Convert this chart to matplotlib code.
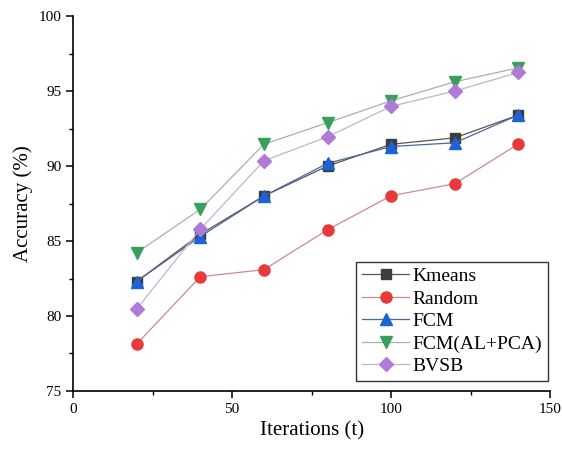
import numpy as np
import matplotlib as mpl
mpl.use('Agg')
import matplotlib.pyplot as plt
from matplotlib.ticker import MultipleLocator

iterations = [20, 40, 60, 80, 100, 120, 140]

kmeans = [82.3, 85.45, 88.0, 90.0, 91.45, 91.88, 93.4]
random_acc = [78.13, 82.62, 83.09, 85.75, 88.02, 88.82, 91.47]
fcm = [82.3, 85.3, 88.0, 90.18, 91.3, 91.55, 93.4]
fcm_al_pca = [84.22, 87.11, 91.45, 92.89, 94.35, 95.62, 96.55]
bvsb = [80.47, 85.78, 90.35, 91.95, 93.98, 95.0, 96.24]

labels = ['Kmeans', 'Random', 'FCM', 'FCM(AL+PCA)', 'BVSB']
markers = ['s', 'o', '^', 'v', 'D']
mcolors = ['#3d3d3d', '#e83a3a', '#1e63d6', '#3a9e5e', '#b07ad8']
lcolors = ['#555555', '#c98a8e', '#4a6a9a', '#9cb8a8', '#c4b2d0']
msizes = [7, 8, 8, 8, 7]

plt.rcParams['font.family'] = 'Liberation Serif'

fig = plt.figure(figsize=(5.62, 4.55), dpi=100)
ax = fig.add_axes([0.130, 0.1407, 0.849, 0.824])

series = [kmeans, random_acc, fcm, fcm_al_pca, bvsb]
for vals, lab, m, mc, lc, ms in zip(series, labels, markers, mcolors, lcolors, msizes):
    ax.plot(iterations, vals, color=lc, lw=0.9, marker=m, markersize=ms,
            markerfacecolor=mc, markeredgecolor=mc, label=lab)

ax.set_xlim(0, 150)
ax.set_ylim(75, 100)
ax.xaxis.set_major_locator(MultipleLocator(50))
ax.xaxis.set_minor_locator(MultipleLocator(25))
ax.yaxis.set_major_locator(MultipleLocator(5))
ax.yaxis.set_minor_locator(MultipleLocator(2.5))
ax.spines['top'].set_visible(False)
ax.spines['right'].set_visible(False)
for s in ['left', 'bottom']:
    ax.spines[s].set_linewidth(1.2)
ax.tick_params(which='major', direction='out', length=5, width=1.1, labelsize=11)
ax.tick_params(which='minor', direction='out', length=3, width=1.0)

ax.set_xlabel('Iterations (t)', fontsize=15)
ax.set_ylabel('Accuracy (%)', fontsize=15)

leg = ax.legend(loc='lower right', bbox_to_anchor=(0.996, 0.027), fontsize=14,
                frameon=True, fancybox=False, edgecolor='black',
                handlelength=2.4, handletextpad=0.2, borderpad=0.3,
                labelspacing=0.25, borderaxespad=0)
leg.get_frame().set_linewidth(1.0)

fig.savefig('out.png', dpi=100)
